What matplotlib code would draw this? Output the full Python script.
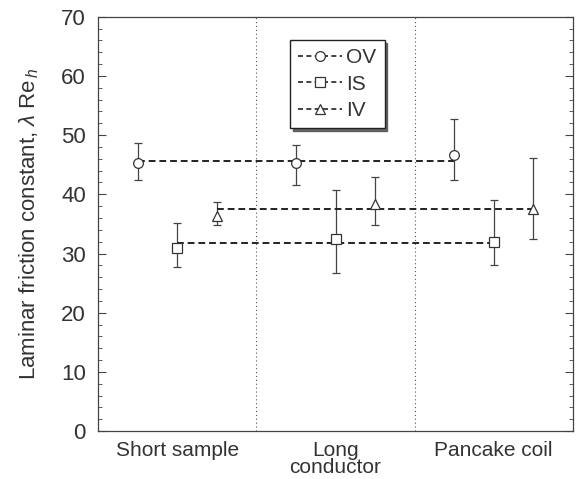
import matplotlib.pyplot as plt
from matplotlib.lines import Line2D
from matplotlib.ticker import MultipleLocator

plt.rcParams['font.family'] = ['Liberation Sans', 'DejaVu Sans']
plt.rcParams['mathtext.fontset'] = 'custom'
plt.rcParams['mathtext.rm'] = 'Liberation Sans'
plt.rcParams['mathtext.it'] = 'Liberation Sans:italic'

# data
categories = ['Short sample', 'Long\nconductor', 'Pancake coil']
series = ['OV', 'IS', 'IV']
offsets = [-0.25, 0.0, 0.25]
markers = ['o', 's', '^']

ov_val = [45.3, 45.3, 46.6]
ov_lo = [42.5, 41.5, 42.5]
ov_hi = [48.6, 48.3, 52.7]
ov_mean = 45.7

is_val = [30.9, 32.4, 32.0]
is_lo = [27.7, 26.7, 28.0]
is_hi = [35.1, 40.8, 39.1]
is_mean = 31.7

iv_val = [36.3, 38.4, 37.6]
iv_lo = [34.8, 34.8, 32.4]
iv_hi = [38.7, 42.9, 46.1]
iv_mean = 37.5

vals = [ov_val, is_val, iv_val]
los = [ov_lo, is_lo, iv_lo]
his = [ov_hi, is_hi, iv_hi]
means = [ov_mean, is_mean, iv_mean]

fig = plt.figure(figsize=(5.78, 4.79), dpi=100)
ax = fig.add_axes([0.170, 0.100, 0.821, 0.865])

txt = '#333333'
centers = [0.5, 1.5, 2.5]

for name, off, mk, v, lo, hi, m in zip(series, offsets, markers, vals, los, his, means):
    xs = [c + off for c in centers]
    yerr = [[a - b for a, b in zip(v, lo)], [b - a for a, b in zip(v, hi)]]
    ax.errorbar(xs, v, yerr=yerr, fmt='none', ecolor='#444444', elinewidth=0.9,
                capsize=3, capthick=0.9, zorder=2)
    ax.plot([xs[0], xs[-1]], [m, m], color='#222222', lw=1.4, ls=(0, (3.5, 2)), zorder=3)
    ax.plot(xs, v, ls='none', marker=mk, ms=7, mfc='white', mec='#333333', mew=0.9, zorder=4)

for xd in [1, 2]:
    ax.axvline(xd, color='#555555', lw=0.8, ls=(0, (1, 2.5)), zorder=1)

ax.set_xlim(0, 3)
ax.set_ylim(0, 70)
ax.set_xticks(centers)
ax.set_xticklabels(categories, fontsize=15, color=txt, linespacing=0.9)
ax.tick_params(axis='x', length=0, pad=7)
ax.yaxis.set_major_locator(MultipleLocator(10))
ax.yaxis.set_minor_locator(MultipleLocator(2))
ax.tick_params(axis='y', which='major', direction='in', length=6, right=True, pad=9,
               labelsize=16, labelcolor=txt, width=0.8, color='#444444')
ax.tick_params(axis='y', which='minor', direction='in', length=3, right=True,
               width=0.6, color='#444444')
ax.set_ylabel(r'Laminar friction constant, $\lambda$ Re$_{\,h}$', fontsize=16, color=txt, labelpad=14)

for sp in ax.spines.values():
    sp.set_color('#444444')
    sp.set_linewidth(0.9)

handles = [Line2D([], [], color='#222222', lw=1.2, ls=(0, (3, 2)), marker=mk, ms=7,
                  mfc='white', mec='#333333', mew=0.9) for mk in markers]
leg = ax.legend(handles, series, loc='upper left', bbox_to_anchor=(0.404, 0.944), borderaxespad=0,
                fontsize=15, frameon=True, fancybox=False, shadow={'color': '#555555', 'alpha': 0.9},
                handlelength=2.1, handletextpad=0.2, borderpad=0.4, labelspacing=0.35)
leg.get_frame().set_edgecolor('#222222')
leg.get_frame().set_linewidth(1.0)
for t in leg.get_texts():
    t.set_color(txt)

fig.savefig('out.png', dpi=100)
